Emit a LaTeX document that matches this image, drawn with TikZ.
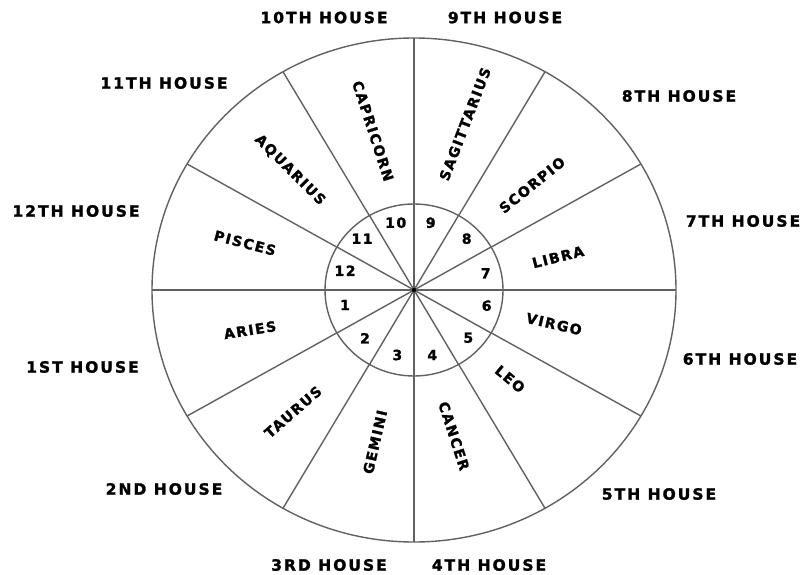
\documentclass[tikz,border=0pt]{standalone}
\usepackage{fontspec}
\newfontfamily\hf{DejaVu Sans}[LetterSpace=11, FakeBold=1.6]
\newfontfamily\hh{DejaVu Sans}[LetterSpace=13, FakeBold=1.6]
\begin{document}
\begin{tikzpicture}[x=1pt,y=1pt,
  wheel/.style={draw=black!62, line width=1.4pt},
  house/.style={font=\hh\bfseries\fontsize{15.5}{15.5}\selectfont, inner sep=0pt},
  sign/.style={font=\hf\bfseries\fontsize{14}{14}\selectfont, inner sep=0pt},
  num/.style={font=\hf\bfseries\fontsize{14}{14}\selectfont, inner sep=0pt}]
\useasboundingbox (0,-575) rectangle (800,0);
\coordinate (o) at (414,-290);
% wheel
\foreach \a in {0,30,...,330}
  \draw[wheel] (o) -- ++({262*cos(\a)},{252*sin(\a)});
\draw[wheel] (o) ellipse [x radius=262pt, y radius=252pt];
\draw[wheel, fill=white] (o) ellipse [x radius=89pt, y radius=86pt];
\foreach \a in {0,30,...,330}
  \draw[wheel] (o) -- ++({89*cos(\a)},{86*sin(\a)});
\fill (o) circle (2.2pt);
% houses
\node[house] (h10) at (324,-17.5) {10TH HOUSE};
\node[house] (h9)  at (505,-17.5) {9TH HOUSE};
\node[house] (h8)  at (679,-96) {8TH HOUSE};
\node[house] (h11) at (164,-83) {11TH HOUSE};
\node[house] (h12) at (76,-211) {12TH HOUSE};
\node[house] (h7)  at (743,-221) {7TH HOUSE};
\node[house] (h1)  at (82.5,-367) {1ST HOUSE};
\node[house] (h6)  at (740,-359) {6TH HOUSE};
\node[house] (h2)  at (164,-489) {2ND HOUSE};
\node[house] (h5)  at (659,-494) {5TH HOUSE};
\node[house] (h3)  at (329,-565) {3RD HOUSE};
\node[house] (h4)  at (489,-565) {4TH HOUSE};
% signs
\node[sign, rotate=-72] (capricorn) at (373,-131) {CAPRICORN};
\node[sign, rotate=69] (sagittarius) at (465,-124) {SAGITTARIUS};
\node[sign, rotate=39] (scorpio) at (532,-185) {SCORPIO};
\node[sign, rotate=14] (libra) at (558,-257) {LIBRA};
\node[sign, rotate=-13] (virgo) at (554,-324) {VIRGO};
\node[sign, rotate=-40] (leo) at (510,-379) {LEO};
\node[sign, rotate=-72] (cancer) at (454,-436) {CANCER};
\node[sign, rotate=77] (gemini) at (375,-442) {GEMINI};
\node[sign, rotate=41] (taurus) at (293,-412) {TAURUS};
\node[sign, rotate=9] (aries) at (250,-330) {ARIES};
\node[sign, rotate=-14.5] (pisces) at (245,-243) {PISCES};
\node[sign, rotate=-45] (aquarius) at (290,-170) {AQUARIUS};
% numbers
\node[num] (n10) at (395.7,-222.7) {10};
\node[num] (n9)  at (430.7,-222.7) {9};
\node[num] (n8)  at (466.7,-238.7) {8};
\node[num] (n11) at (362,-238.7) {11};
\node[num] (n12) at (345,-270.7) {12};
\node[num] (n7)  at (485.7,-273.3) {7};
\node[num] (n1)  at (345,-305) {1};
\node[num] (n6)  at (486.7,-305.7) {6};
\node[num] (n2)  at (365,-338.3) {2};
\node[num] (n5)  at (468.3,-337.7) {5};
\node[num] (n3)  at (397.3,-355) {3};
\node[num] (n4)  at (432.3,-355) {4};
\end{tikzpicture}
\end{document}
